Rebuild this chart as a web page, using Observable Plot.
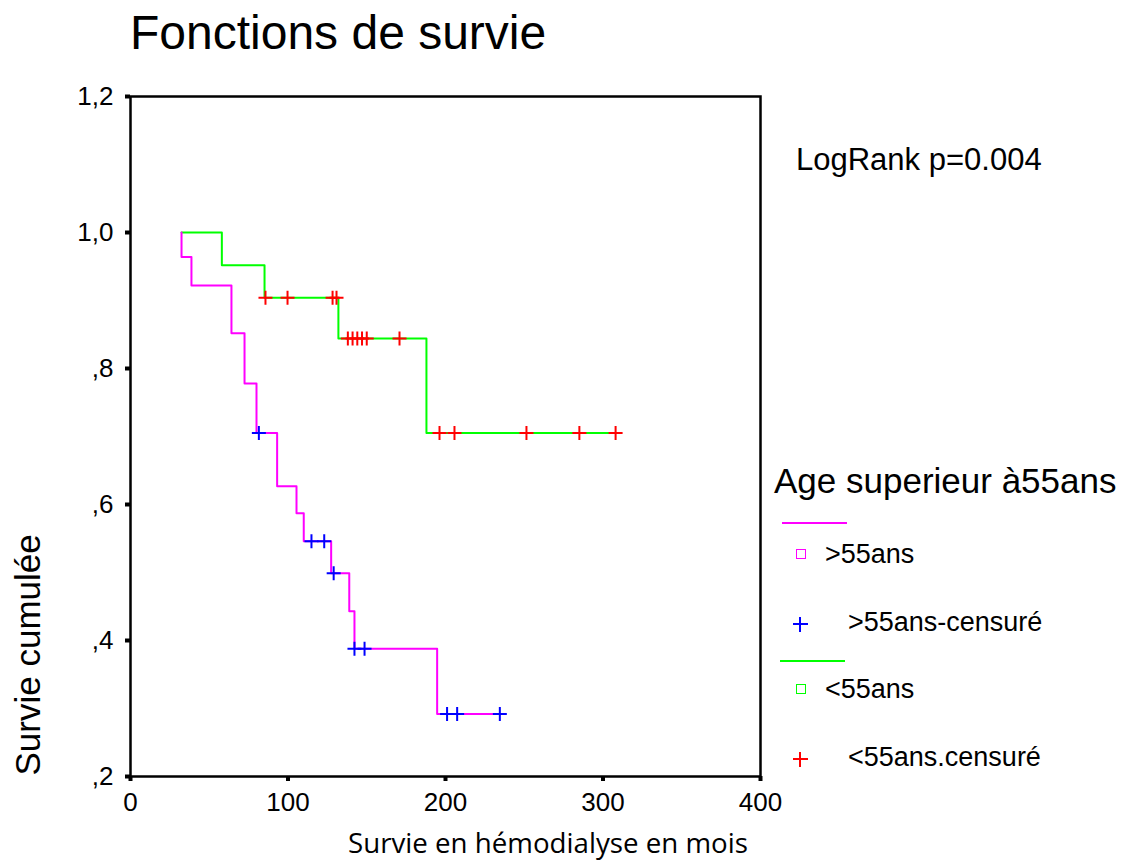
<!DOCTYPE html>
<html>
<head>
<meta charset="utf-8">
<script src="https://cdn.jsdelivr.net/npm/d3@7"></script>
<script src="https://cdn.jsdelivr.net/npm/@observablehq/plot@0.6"></script>
<style>
  body { margin: 0; background: #fff; }
  #wrap { position: relative; width: 1129px; height: 861px; font-family: "Liberation Sans", Arial, sans-serif; color: #000; overflow: hidden; }
  #wrap > svg { position: absolute; left: 0; top: 0; }
  .abs { position: absolute; white-space: nowrap; line-height: 1; }
  .lline { position: absolute; height: 2px; }
  .lsq { position: absolute; width: 8px; height: 8px; border-style: solid; border-width: 1.5px; background: #fff; }
  .lplus { position: absolute; width: 15px; height: 15px; }
  .lplus::before, .lplus::after { content: ""; position: absolute; background: var(--c); }
  .lplus::before { left: 0; top: 6.5px; width: 15px; height: 2px; }
  .lplus::after { left: 6.5px; top: 0; width: 2px; height: 15px; }
</style>
</head>
<body>
<div id="wrap"></div>
<script>
// ---- Text ----
const chartTitle = "Fonctions de survie";
const testLabel = "LogRank p=0.004";
const xLabel = "Survie en hémodialyse en mois";
const yLabel = "Survie cumulée";
const legendTitle = "Age superieur à55ans";
const legendLabels = [">55ans", ">55ans-censuré", "<55ans", "<55ans.censuré"];

// ---- Ticks ----
const xTicks = [0, 100, 200, 300, 400];
const xTickLabels = ["0", "100", "200", "300", "400"];
const yTicks = [0.2, 0.4, 0.6, 0.8, 1.0, 1.2];
const yTickLabels = [",2", ",4", ",6", ",8", "1,0", "1,2"];

// ---- Group >55ans (Kaplan-Meier steps) ----
const olderTimes = [32.4, 32.4, 38.7, 64.1, 72.4, 80.0, 93.1, 105.4, 110.0, 127.4, 138.9, 142.2, 194.7, 234.5];
const olderSurv  = [1.0, 0.964, 0.922, 0.852, 0.778, 0.705, 0.627, 0.587, 0.546, 0.499, 0.443, 0.388, 0.292, 0.292];
const olderCensorTimes = [81.5, 114.9, 123.0, 129.0, 142.2, 148.6, 201.0, 207.4, 234.5];
const olderCensorSurv  = [0.705, 0.546, 0.546, 0.499, 0.388, 0.388, 0.292, 0.292, 0.292];

// ---- Group <55ans ----
const youngerTimes = [32.4, 58.0, 85.1, 132.0, 187.9, 308.0];
const youngerSurv  = [1.0, 0.952, 0.904, 0.844, 0.705, 0.705];
const youngerCensorTimes = [85.7, 99.7, 128.3, 130.8, 138.0, 141.0, 144.0, 147.0, 150.0, 170.8, 196.2, 205.7, 251.4, 285.0, 308.0];
const youngerCensorSurv  = [0.904, 0.904, 0.904, 0.904, 0.844, 0.844, 0.844, 0.844, 0.844, 0.844, 0.705, 0.705, 0.705, 0.705, 0.705];

const colors = {older: "#ff00ff", olderCensor: "#0000ff", younger: "#00ff00", youngerCensor: "#ff0000"};

const zip = (ts, ss) => ts.map((t, i) => ({t, s: ss[i]}));
const older = zip(olderTimes, olderSurv);
const olderC = zip(olderCensorTimes, olderCensorSurv);
const younger = zip(youngerTimes, youngerSurv);
const youngerC = zip(youngerCensorTimes, youngerCensorSurv);

const plusSymbol = {
  draw(ctx, size) {
    const r = Math.sqrt(size / Math.PI);
    ctx.moveTo(-r, 0); ctx.lineTo(r, 0);
    ctx.moveTo(0, -r); ctx.lineTo(0, r);
  }
};

const chart = Plot.plot({
  width: 1129,
  height: 861,
  marginLeft: 130,
  marginRight: 369,
  marginTop: 96,
  marginBottom: 85,
  x: {domain: [0, 400]},
  y: {domain: [0.2, 1.2]},
  style: {fontFamily: "'Liberation Sans', Arial, sans-serif", background: "white", color: "black", overflow: "visible"},
  marks: [
    Plot.axisY(yTicks, {tickSize: 5, strokeWidth: 4, tickPadding: 12, fontSize: 26, label: null,
      tickFormat: d => yTickLabels[yTicks.indexOf(d)]}),
    Plot.axisX(xTicks, {tickSize: 5, strokeWidth: 4, tickPadding: 11, fontSize: 26, label: null,
      tickFormat: d => xTickLabels[xTicks.indexOf(d)]}),
    Plot.frame({stroke: "black", strokeWidth: 2.5}),
    Plot.line(younger, {x: "t", y: "s", curve: "step-after", stroke: colors.younger, strokeWidth: 2}),
    Plot.line(older, {x: "t", y: "s", curve: "step-after", stroke: colors.older, strokeWidth: 2}),
    Plot.dot(youngerC, {x: "t", y: "s", symbol: plusSymbol, r: 7, stroke: colors.youngerCensor, strokeWidth: 2, fill: "none"}),
    Plot.dot(olderC, {x: "t", y: "s", symbol: plusSymbol, r: 7, stroke: colors.olderCensor, strokeWidth: 2, fill: "none"}),
    Plot.text([yLabel], {frameAnchor: "bottom-left", rotate: -90, textAnchor: "start", lineAnchor: "middle",
      dx: -102, dy: -1, fontSize: 35, fill: "black"})
  ]
});

const wrap = document.getElementById("wrap");
wrap.appendChild(chart);

function addText(txt, left, baseline, size, family, extra) {
  const d = document.createElement("div");
  d.className = "abs";
  d.textContent = txt;
  const f = family || "'Liberation Sans', Arial, sans-serif";
  const k = family && family.includes("Open Sans") ? 0.888 : 0.846;
  d.style.left = left + "px";
  d.style.top = (baseline - k * size) + "px";
  d.style.fontSize = size + "px";
  d.style.fontFamily = f;
  if (extra) Object.assign(d.style, extra);
  wrap.appendChild(d);
  return d;
}

addText(chartTitle, 130, 50, 48);
addText(testLabel, 796, 170, 31);
addText(xLabel, 348, 854, 27.7, "'Open Sans', sans-serif");

// ---- Legend ----
addText(legendTitle, 774, 493, 35);
function addLine(left, top, width, color) {
  const d = document.createElement("div");
  d.className = "lline";
  d.style.left = left + "px"; d.style.top = top + "px"; d.style.width = width + "px"; d.style.background = color;
  wrap.appendChild(d);
}
function addSquare(cx, cy, color) {
  const d = document.createElement("div");
  d.className = "lsq";
  d.style.left = (cx - 5.5) + "px"; d.style.top = (cy - 5.5) + "px"; d.style.borderColor = color;
  wrap.appendChild(d);
}
function addPlus(cx, cy, color) {
  const d = document.createElement("div");
  d.className = "lplus";
  d.style.left = (cx - 7.5) + "px"; d.style.top = (cy - 7.5) + "px"; d.style.setProperty("--c", color);
  wrap.appendChild(d);
}
addLine(782, 521.5, 65, colors.older);
addSquare(801, 554, colors.older);
addText(legendLabels[0], 825, 564, 27);
addPlus(800, 624, colors.olderCensor);
addText(legendLabels[1], 848, 632, 27);
addLine(780, 660, 65, colors.younger);
addSquare(801, 689, colors.younger);
addText(legendLabels[2], 825, 699, 27);
addPlus(800, 759, colors.youngerCensor);
addText(legendLabels[3], 848, 767, 27);
</script>
</body>
</html>
